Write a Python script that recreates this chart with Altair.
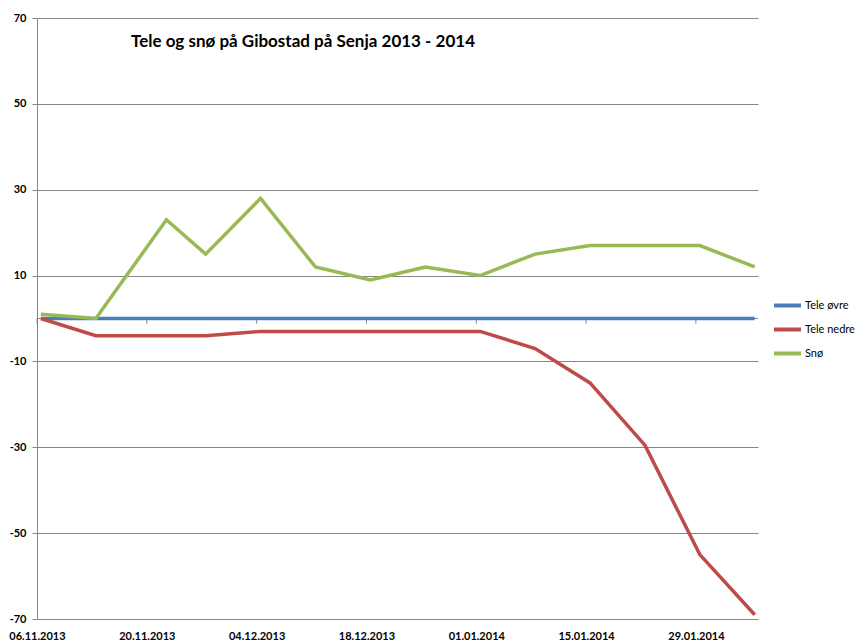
import altair as alt
import pandas as pd

# ---- data ----
dates = ["2013-11-06", "2013-11-13", "2013-11-22", "2013-11-27", "2013-12-04",
         "2013-12-11", "2013-12-18", "2013-12-25", "2014-01-01", "2014-01-08",
         "2014-01-15", "2014-01-22", "2014-01-29", "2014-02-05"]
tele_ovre = [0, 0, 0, 0, 0, 0, 0, 0, 0, 0, 0, 0, 0, 0]
tele_nedre = [0, -4, -4, -4, -3, -3, -3, -3, -3, -7, -15, -29.5, -55, -69]
sno = [1, 0, 23, 15, 28, 12, 9, 12, 10, 15, 17, 17, 17, 12]

series_names = ["Tele øvre", "Tele nedre", "Snø"]
series_colors = ["#4A7EBB", "#BE4B48", "#98B954"]
tick_dates = ["2013-11-06", "2013-11-20", "2013-12-04", "2013-12-18",
              "2014-01-01", "2014-01-15", "2014-01-29"]
y_ticks = [-70, -50, -30, -10, 10, 30, 50, 70]
title_text = "Tele og snø på Gibostad på Senja 2013 - 2014"

# ---- build long table (daily values plotted at mid-day, like a date axis) ----
rows = []
for name, vals in zip(series_names, [tele_ovre, tele_nedre, sno]):
    for d, v in zip(dates, vals):
        rows.append({"Dato": pd.Timestamp(d) + pd.Timedelta(hours=12),
                     "Serie": name, "Verdi": v})
df = pd.DataFrame(rows)
ticks_df = pd.DataFrame({"Dato": [pd.Timestamp(d) for d in tick_dates]})
zero_df = pd.DataFrame({"v": [0]})

GRAY = "#868686"
FONT = "Lato"

x_scale = alt.Scale(domain=[alt.DateTime(year=2013, month=11, date=6),
                            alt.DateTime(year=2014, month=2, date=5, hours=22)])
y_scale = alt.Scale(domain=[-70, 70], nice=False, zero=False)

tick_vals = [alt.DateTime(year=int(d[:4]), month=int(d[5:7]), date=int(d[8:10]))
             for d in tick_dates]

x_axis = alt.Axis(values=tick_vals, format="%d.%m.%Y", title=None,
                  domain=False, ticks=False, grid=False, labelFlush=False,
                  labelPadding=11, labelFont=FONT, labelFontSize=11,
                  labelFontWeight="bold", labelColor="#000000", labelAngle=0)
y_axis = alt.Axis(values=y_ticks, title=None, grid=True, gridColor=GRAY,
                  gridWidth=1, domainColor=GRAY, tickColor=GRAY,
                  tickSize=5, labelPadding=6, labelFont=FONT,
                  labelFontSize=11, labelFontWeight="bold",
                  labelColor="#000000", labelExpr="'' + datum.value")

zero_line = alt.Chart(zero_df).mark_rule(color=GRAY, strokeWidth=1).encode(
    y=alt.Y("v:Q", scale=y_scale, axis=y_axis)
)

tick_marks = alt.Chart(ticks_df).mark_rule(color=GRAY, strokeWidth=1).encode(
    x=alt.X("Dato:T", scale=x_scale, axis=x_axis),
    y=alt.Y("v0:Q", scale=y_scale, axis=y_axis),
    y2="v1:Q",
).transform_calculate(v0="0", v1="-1.2")

lines = alt.Chart(df).mark_line(strokeWidth=3.5, strokeCap="butt").encode(
    x=alt.X("Dato:T", scale=x_scale, axis=x_axis),
    y=alt.Y("Verdi:Q", scale=y_scale, axis=y_axis),
    color=alt.Color("Serie:N",
                    scale=alt.Scale(domain=series_names, range=series_colors),
                    sort=series_names,
                    legend=alt.Legend(title=None, orient="none", legendX=735,
                                      legendY=272, symbolType="stroke",
                                      symbolStrokeWidth=4, symbolSize=729,
                                      labelOffset=2, rowPadding=0,
                                      labelFont=FONT, labelFontSize=11,
                                      labelColor="#000000")),
    order=alt.Order("Dato:T"),
)

chart = alt.layer(zero_line, tick_marks, lines).properties(
    width=721,
    height=601,
    autosize=alt.AutoSizeParams(type="none"),
    padding={"left": 29, "top": 10, "right": 98, "bottom": 24},
    background="white",
    title=alt.TitleParams(text=title_text, anchor="start", frame="group",
                          dx=94, dy=43, font=FONT, fontSize=17,
                          fontWeight="bold", color="#000000"),
).configure_view(strokeWidth=0)

chart.save("out.html", embed_options={"renderer": "svg", "actions": False})
